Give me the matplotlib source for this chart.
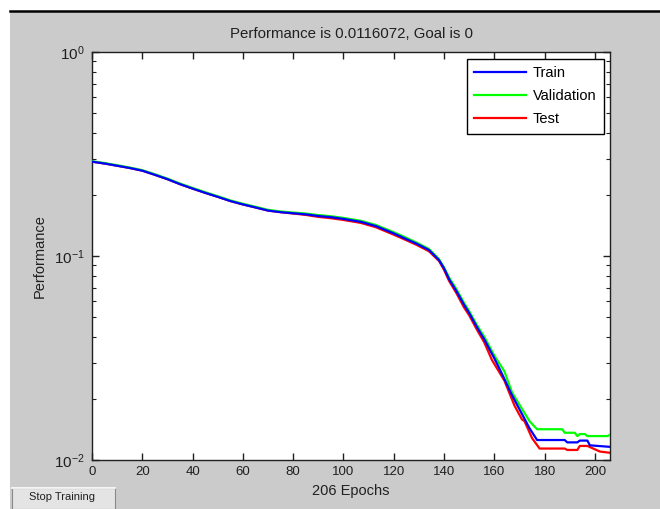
import matplotlib
matplotlib.use("Agg")
import matplotlib.pyplot as plt
import matplotlib.patches as patches
import matplotlib.lines as mlines
import matplotlib.ticker as ticker

plt.rcParams["font.family"] = ["Liberation Sans", "DejaVu Sans"]
plt.rcParams["mathtext.fontset"] = "custom"
plt.rcParams["mathtext.rm"] = "Liberation Sans"
plt.rcParams["mathtext.it"] = "Liberation Sans"

TITLE = "Performance is 0.0116072, Goal is 0"
N_EPOCHS = 206

# values (epoch, performance)
train_ep = [0, 5, 10, 15, 20, 25, 30, 35, 40, 45, 50, 55, 60, 65, 70, 75, 80, 85,
            90, 95, 100, 107, 113, 120, 125, 129, 134, 138, 140, 142, 145, 148,
            150, 153, 156, 160, 163, 167, 171, 174, 177, 188, 189, 193, 194, 197,
            198, 206]
train = [0.290, 0.284, 0.277, 0.270, 0.262, 0.250, 0.238, 0.225, 0.214, 0.204,
         0.195, 0.186, 0.179, 0.173, 0.167, 0.164, 0.162, 0.160, 0.157, 0.155,
         0.152, 0.147, 0.140, 0.129, 0.121, 0.115, 0.107, 0.0955, 0.087, 0.077,
         0.067, 0.0575, 0.0525, 0.045, 0.039, 0.0315, 0.0265, 0.0208, 0.0168,
         0.0143, 0.01253, 0.01253, 0.0122, 0.0122, 0.01245, 0.01245, 0.0118,
         0.0116]

val_ep = [0, 5, 10, 15, 20, 25, 30, 35, 40, 45, 50, 55, 60, 65, 70, 75, 80, 85,
          90, 95, 100, 107, 113, 120, 125, 129, 134, 138, 140, 142, 145, 148,
          150, 153, 156, 160, 164, 167, 171, 174, 177, 187, 188, 192, 193, 194,
          196, 197, 205, 206]
val = [0.2915, 0.2855, 0.2785, 0.2715, 0.2635, 0.2515, 0.2395, 0.2265, 0.2155,
       0.2055, 0.1963, 0.1873, 0.1803, 0.1743, 0.1683, 0.1653, 0.1633, 0.1615,
       0.1587, 0.1567, 0.1537, 0.1487, 0.1418, 0.1308, 0.1228, 0.1165, 0.1083,
       0.0965, 0.0878, 0.0785, 0.0685, 0.0588, 0.0537, 0.046, 0.0402, 0.0325,
       0.0272, 0.0215, 0.0178, 0.0155, 0.01415, 0.01415, 0.0136, 0.0136,
       0.0131, 0.0134, 0.0134, 0.0131, 0.0131, 0.0133]

test_ep = [0, 5, 10, 15, 20, 25, 30, 35, 40, 45, 50, 55, 60, 65, 70, 75, 80, 85,
           90, 95, 100, 107, 113, 120, 125, 129, 134, 138, 140, 142, 145, 148,
           150, 153, 156, 159, 164, 168, 171, 172, 175, 178, 188, 189, 193, 194,
           197, 202, 206]
test = [0.290, 0.284, 0.277, 0.270, 0.262, 0.250, 0.238, 0.225, 0.214, 0.204,
        0.195, 0.186, 0.179, 0.173, 0.167, 0.164, 0.1615, 0.159, 0.1555, 0.1532,
        0.1502, 0.1452, 0.1382, 0.1272, 0.1195, 0.1135, 0.1055, 0.0945, 0.0855,
        0.0755, 0.0655, 0.0558, 0.0512, 0.0437, 0.0377, 0.031, 0.0245, 0.0185,
        0.0158, 0.0155, 0.0128, 0.01138, 0.01138, 0.0112, 0.0112, 0.01172,
        0.01172, 0.0110, 0.01085]

fig = plt.figure(figsize=(6.6, 5.09), dpi=100, facecolor="white")

# MATLAB-style grey window with a dark top edge
bg = patches.Rectangle((10 / 660, 0), 1, (509 - 11) / 509,
                       transform=fig.transFigure, facecolor="#cbcbcb",
                       edgecolor="none", zorder=-10)
fig.add_artist(bg)
fig.add_artist(mlines.Line2D([10 / 660, 1], [(509 - 11) / 509] * 2,
                             transform=fig.transFigure, color="black",
                             linewidth=1.8))

ax = fig.add_axes([92 / 660, 49 / 509, 518 / 660, 408 / 509])
ax.set_facecolor("white")

ax.semilogy(test_ep, test, color="#ff0000", linewidth=1.6, label="Test", zorder=2)
ax.semilogy(val_ep, val, color="#00ff00", linewidth=1.6, label="Validation", zorder=3)
ax.semilogy(train_ep, train, color="#0000ff", linewidth=1.6, label="Train", zorder=4)

ax.set_xlim(0, N_EPOCHS)
ax.set_ylim(1e-2, 1e0)
ax.xaxis.set_major_locator(ticker.MultipleLocator(20))
ax.yaxis.set_major_locator(ticker.LogLocator(base=10, numticks=5))
ax.yaxis.set_minor_locator(ticker.LogLocator(base=10, subs=range(2, 10), numticks=20))
ax.yaxis.set_minor_formatter(ticker.NullFormatter())

ax.tick_params(which="both", direction="in", top=True, right=True, colors="#202020")
ax.tick_params(which="major", length=5, width=1, labelsize=9.5, pad=4)
ax.tick_params(axis="y", which="major", labelsize=11, pad=5)
ax.tick_params(which="minor", length=3, width=0.8)
for s in ax.spines.values():
    s.set_linewidth(1.0)
    s.set_color("#202020")

ax.set_xlabel(f"{N_EPOCHS} Epochs", fontsize=10.5, color="#202020", labelpad=5)
ax.set_ylabel("Performance", fontsize=10.5, color="#202020")
ax.yaxis.set_label_coords(-(92 - 47) / 518, 0.5)
fig.text(351 / 660, 1 - 34 / 509, TITLE, ha="center", va="center",
         fontsize=10.8, color="#202020")

h, l = ax.get_legend_handles_labels()
order = [2, 1, 0]
leg = ax.legend([h[i] for i in order], [l[i] for i in order], loc="upper right",
                bbox_to_anchor=(0.988, 0.983), fontsize=10.5, fancybox=False,
                edgecolor="black", framealpha=1, handlelength=3.6,
                handletextpad=0.45, labelspacing=0.62, borderpad=0.5,
                borderaxespad=0)
leg.get_frame().set_linewidth(1.0)

# "Stop Training" button
fig.add_artist(patches.Rectangle((12 / 660, 0), 103 / 660, 21 / 509,
                                 transform=fig.transFigure,
                                 facecolor="#e4e4e4", edgecolor="#8a8a8a",
                                 linewidth=0.8, zorder=1))
fig.add_artist(mlines.Line2D([12 / 660, 115 / 660], [21 / 509] * 2,
                             transform=fig.transFigure, color="white",
                             linewidth=1.2))
fig.text(62 / 660, 1 - 497 / 509, "Stop Training", ha="center", va="center",
         fontsize=8, color="#202020")

fig.savefig("out.png", dpi=100, facecolor=fig.get_facecolor())
